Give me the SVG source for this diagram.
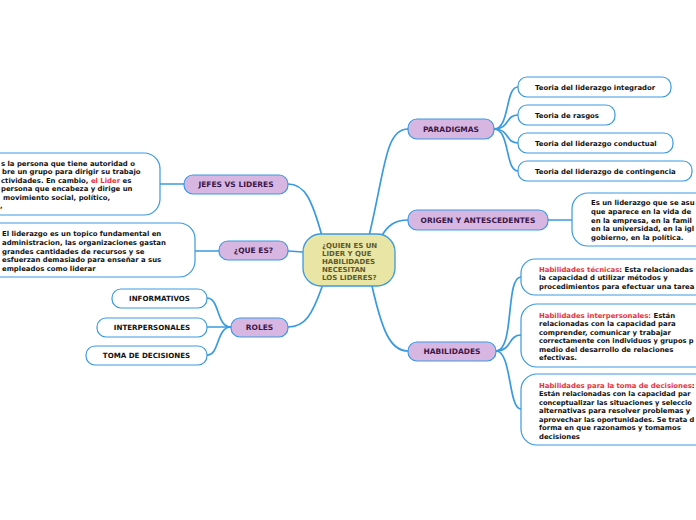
<svg xmlns="http://www.w3.org/2000/svg" width="696" height="520" viewBox="0 0 696 520">
<style>
.bg{fill:#ffffff}
.center{fill:#e9e6a5;stroke:#3a9ae0;stroke-width:1.3}
.branch{fill:#d8b6e2;stroke:#3a9ae0;stroke-width:1.2}
.leaf{fill:#ffffff;stroke:#3a9ae0;stroke-width:1.2}
.conn{fill:none;stroke:#3a9ae0;stroke-width:1.7;stroke-linecap:round}
.ct{font-family:"DejaVu Sans",Verdana,sans-serif;font-weight:bold;font-size:7px;fill:#5e5b2b}
.bt{font-family:"DejaVu Sans",Verdana,sans-serif;font-weight:bold;font-size:7.5px;fill:#3b1747;text-anchor:middle}
.lt{font-family:"DejaVu Sans",Verdana,sans-serif;font-weight:bold;font-size:6.9px;fill:#111111}
.fit{font-size:6.7px}
.ltc{font-family:"DejaVu Sans",Verdana,sans-serif;font-weight:bold;font-size:7.1px;fill:#111111;text-anchor:middle}
.red{fill:#e8333c}
</style>
<rect class="bg" x="0" y="0" width="696" height="520"/>
<g id="connectors">
<path class="conn" d="M369,236 C385,170 385,129 408,129"/>
<path class="conn" d="M381,237 C388,225 395,220 408,220"/>
<path class="conn" d="M372,286 C382,330 390,351 408,351"/>
<path class="conn" d="M322,236 C312,200 305,184 288,184"/>
<path class="conn" d="M288,251 L303,252"/>
<path class="conn" d="M322,287 C312,315 305,327 288,327"/>
<path class="conn" d="M184,184 L160,184"/>
<path class="conn" d="M219,251 L195,251"/>
<path class="conn" d="M231,327 C216,327 220,298 207,298"/>
<path class="conn" d="M231,327 L207,327"/>
<path class="conn" d="M231,327 C216,327 220,355 207,355"/>
<path class="conn" d="M494,129 C510,129 505,87 518,87"/>
<path class="conn" d="M494,129 C510,129 505,115 518,115"/>
<path class="conn" d="M494,129 C510,129 505,143 518,143"/>
<path class="conn" d="M494,129 C510,129 505,171 518,171"/>
<path class="conn" d="M548,220 L572,220"/>
<path class="conn" d="M496,351 C515,351 505,277 521,277"/>
<path class="conn" d="M496,351 C512,351 508,335 521,335"/>
<path class="conn" d="M496,351 C512,351 508,409 521,409"/>
</g>
<g id="center">
<rect class="center" x="303" y="234" width="92" height="52" rx="18"/>
<text class="ct" x="322" y="247.5">¿QUIEN ES UN</text>
<text class="ct" x="322" y="255.5">LIDER Y QUE</text>
<text class="ct" x="322" y="263.5">HABILIDADES</text>
<text class="ct" x="322" y="271.5">NECESITAN</text>
<text class="ct" x="322" y="279.5">LOS LIDERES?</text>
</g>
<g id="paradigmas">
<rect class="branch" x="408" y="119" width="86" height="20" rx="9"/>
<text class="bt" x="451" y="131.7">PARADIGMAS</text>
</g>
<g id="teoria-integrador">
<rect class="leaf" x="518" y="77" width="153" height="20" rx="9"/>
<text class="lt" x="535" y="89.5">Teoria del liderazgo integrador</text>
</g>
<g id="teoria-rasgos">
<rect class="leaf" x="518" y="105" width="97" height="20" rx="9"/>
<text class="lt" x="535" y="117.5">Teoria de rasgos</text>
</g>
<g id="teoria-conductual">
<rect class="leaf" x="518" y="133" width="155" height="20" rx="9"/>
<text class="lt" x="535" y="145.5">Teoria del liderazgo conductual</text>
</g>
<g id="teoria-contingencia">
<rect class="leaf" x="518" y="161" width="174" height="20" rx="9"/>
<text class="lt" x="535" y="173.5">Teoria del liderazgo de contingencia</text>
</g>
<g id="origen">
<rect class="branch" x="408" y="210" width="140" height="20" rx="9"/>
<text class="bt" x="478" y="222.7">ORIGEN Y ANTESCEDENTES</text>
</g>
<g id="origen-leaf">
<rect class="leaf" x="572" y="193" width="150" height="53" rx="16"/>
<text class="lt" x="591" y="204.5">Es un liderazgo que se asu</text>
<text class="lt" x="591" y="213.5">que aparece en la vida de</text>
<text class="lt" x="591" y="222.5">en la empresa, en la famil</text>
<text class="lt" x="591" y="231.2">en la universidad, en la igl</text>
<text class="lt" x="591" y="239.7">gobierno, en la política.</text>
</g>
<g id="habilidades">
<rect class="branch" x="408" y="342" width="88" height="19" rx="9"/>
<text class="bt" x="452" y="354.2">HABILIDADES</text>
</g>
<g id="hab-tecnicas">
<rect class="leaf" x="521" y="259" width="200" height="36" rx="14"/>
<text class="lt" x="539" y="271.5"><tspan class="red">Habilidades técnicas</tspan>: Esta relacionadas</text>
<text class="lt" x="539" y="280.3">la capacidad d utilizar métodos y</text>
<text class="lt" x="539" y="288.8">procedimientos para efectuar una tarea</text>
</g>
<g id="hab-interpersonales">
<rect class="leaf" x="521" y="304" width="200" height="63" rx="16"/>
<text class="lt" x="539" y="317.5"><tspan class="red">Habilidades interpersonales:</tspan> Están</text>
<text class="lt" x="539" y="326">relacionadas con la capacidad para</text>
<text class="lt" x="539" y="334.5">comprender, comunicar y trabajar</text>
<text class="lt fit" x="539" y="343">correctamente con individuos y grupos p</text>
<text class="lt" x="539" y="351.5">medio del desarrollo de relaciones</text>
<text class="lt" x="539" y="360">efectivas.</text>
</g>
<g id="hab-decisiones">
<rect class="leaf" x="521" y="374" width="200" height="71" rx="16"/>
<text class="lt" x="539" y="387.5"><tspan class="red">Habilidades para la toma de decisiones</tspan>:</text>
<text class="lt fit" x="539" y="396">Están relacionadas con la capacidad par</text>
<text class="lt fit" x="539" y="404.5">conceptualizar las situaciones y seleccio</text>
<text class="lt" x="539" y="413">alternativas para resolver problemas y</text>
<text class="lt fit" x="539" y="421.5">aprovechar las oportunidades. Se trata d</text>
<text class="lt" x="539" y="430">forma en que razonamos y tomamos</text>
<text class="lt" x="539" y="438.5">decisiones</text>
</g>
<g id="jefes">
<rect class="branch" x="184" y="175" width="104" height="19" rx="9"/>
<text class="bt" x="236" y="187.2">JEFES VS LIDERES</text>
</g>
<g id="jefes-leaf">
<rect class="leaf" x="-30" y="153" width="190" height="62" rx="16"/>
<text class="lt" x="1" y="165.5">s la persona que tiene autoridad o</text>
<text class="lt" x="2" y="174">bre un grupo para dirigir su trabajo</text>
<text class="lt" x="1" y="182.5">ctividades. En cambio, <tspan class="red">el Lider</tspan> es</text>
<text class="lt" x="1" y="191">persona que encabeza y dirige un</text>
<text class="lt" x="3" y="199.5">movimiento social, político,</text>
<text class="lt" x="0" y="208">,</text>
</g>
<g id="que-es">
<rect class="branch" x="219" y="241" width="69" height="19" rx="9"/>
<text class="bt" x="253.5" y="253.2">¿QUE ES?</text>
</g>
<g id="que-es-leaf">
<rect class="leaf" x="-30" y="223" width="225" height="54" rx="16"/>
<text class="lt" x="2" y="236.3">El liderazgo es un topico fundamental en</text>
<text class="lt" x="2" y="245">administracion,  las organizaciones gastan</text>
<text class="lt" x="2" y="253.7">grandes cantidades de recursos y se</text>
<text class="lt" x="2" y="262.4">esfuerzan demasiado para enseñar a sus</text>
<text class="lt" x="2" y="271.1">empleados como liderar</text>
</g>
<g id="roles">
<rect class="branch" x="231" y="318" width="57" height="19" rx="9"/>
<text class="bt" x="259.5" y="330.2">ROLES</text>
</g>
<g id="informativos">
<rect class="leaf" x="112" y="289" width="95" height="19" rx="9"/>
<text class="ltc" x="159.5" y="301">INFORMATIVOS</text>
</g>
<g id="interpersonales">
<rect class="leaf" x="97" y="318" width="110" height="19" rx="9"/>
<text class="ltc" x="152" y="330">INTERPERSONALES</text>
</g>
<g id="toma-decisiones">
<rect class="leaf" x="86" y="346" width="121" height="19" rx="9"/>
<text class="ltc" x="146.5" y="358">TOMA DE DECISIONES</text>
</g>
</svg>
